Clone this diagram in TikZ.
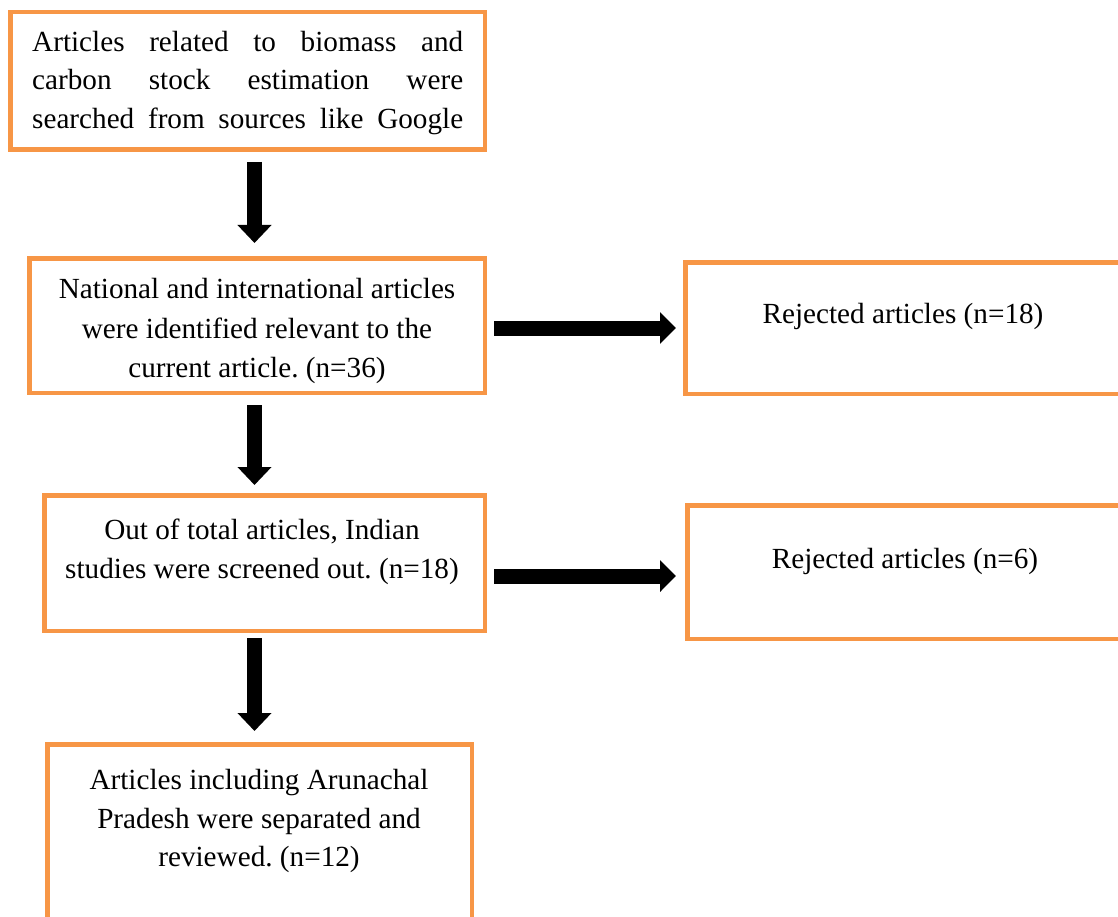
\documentclass[tikz,border=0pt]{standalone}
\usepackage{fontspec}
\setmainfont{Liberation Serif}
\usetikzlibrary{arrows.meta}
\definecolor{boxorange}{HTML}{F79646}
\frenchspacing
\begin{document}
\begin{tikzpicture}[x=1pt,y=-1pt,
  box/.style={draw=boxorange, line width=4.5pt, inner sep=0pt, anchor=north west},
  txt/.style={font=\fontsize{29.2}{38.5}\selectfont, align=center, inner sep=0pt},
  fatdown/.style={line width=15pt, -{Triangle[width=33pt,length=18pt]}},
  fatright/.style={line width=15pt, -{Triangle[width=31pt,length=16pt]}}]
\useasboundingbox (0,0) rectangle (1118,917);
\clip (0,0) rectangle (1118,917);
\fill[white] (0,0) rectangle (1118,917);

% boxes
\node[box, minimum width=474.5pt, minimum height=137.5pt] (b1) at (8,10) {};
\node[box, minimum width=455.5pt, minimum height=134.5pt] (b2) at (27,256) {};
\node[box, minimum width=440.5pt, minimum height=135.5pt] (b3) at (42,493) {};
\node[box, minimum width=424.5pt, minimum height=300pt] (b4) at (45,742) {};
\node[box, minimum width=600pt, minimum height=131.5pt] (r1) at (683,260) {};
\node[box, minimum width=600pt, minimum height=133.5pt] (r2) at (685,503) {};

% texts
\node[txt, anchor=west, align=left] (t1) at (32,83)
  {\makebox[431pt][s]{Articles related to biomass and}\\
   \makebox[431pt][s]{carbon stock estimation were}\\
   \makebox[431pt][s]{searched from sources like Google}};
\node[txt, font=\fontsize{29.2}{39.5}\selectfont] (t2) at (257,331) {National and international articles\\were identified relevant to the\\current article. (n=36)};
\node[txt] (t3) at (262,552) {Out of total articles, Indian\\studies were screened out. (n=18)};
\node[txt] (t4) at (259,821) {Articles including Arunachal\\Pradesh were separated and\\reviewed. (n=12)};
\node[txt] (tr1) at (903,316) {Rejected articles (n=18)};
\node[txt] (tr2) at (905,561) {Rejected articles (n=6)};

% arrows
\coordinate (ax) at (254.5,0);
\coordinate (h1) at (0,328);
\coordinate (h2) at (0,576);
\draw[fatdown, shorten <=10pt, shorten >=13pt] (b1.south -| ax) -- (b2.north -| ax);
\draw[fatdown, shorten <=10pt, shorten >=8pt] (b2.south -| ax) -- (b3.north -| ax);
\draw[fatdown, shorten <=5pt, shorten >=11pt] (b3.south -| ax) -- (b4.north -| ax);
\draw[fatright, shorten <=7pt, shorten >=7pt] (b2.east |- h1) -- (r1.west |- h1);
\draw[fatright, shorten <=7pt, shorten >=9pt] (b3.east |- h2) -- (r2.west |- h2);
\end{tikzpicture}
\end{document}
